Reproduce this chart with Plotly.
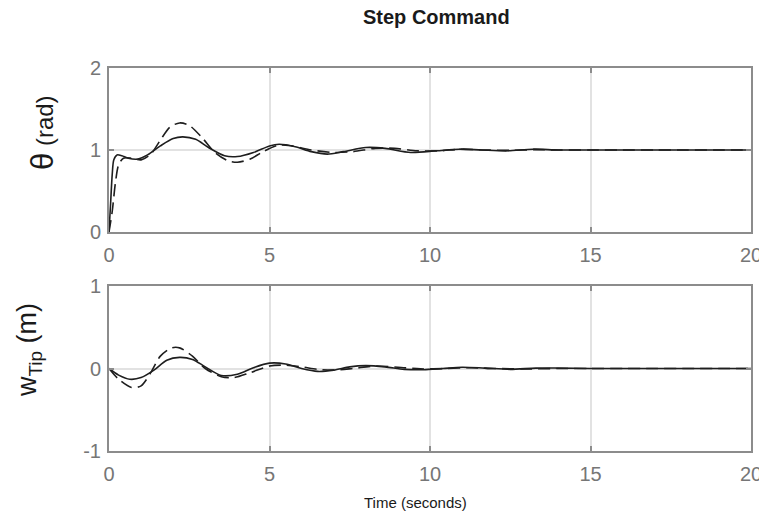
import plotly.graph_objects as go

# ---------------- data ----------------
theta_solid_t = [0, 0.05, 0.1, 0.15, 0.25, 0.4, 0.6, 0.9, 1.2, 1.6, 2.0, 2.3, 2.7, 3.1, 3.6, 4.0, 4.5,
                 5.0, 5.3, 5.8, 6.3, 6.8, 7.3, 8.0, 8.6, 9.4, 10.2, 10.9, 11.6, 12.4, 13.2, 14.0,
                 15.0, 16.0, 17.0, 18.0, 19.0, 20.0]
theta_solid = [0, 0.35, 0.7, 0.88, 0.94, 0.93, 0.90, 0.89, 0.94, 1.05, 1.14, 1.16, 1.13, 1.03, 0.93, 0.92, 0.97,
               1.05, 1.07, 1.04, 0.98, 0.95, 0.98, 1.03, 1.02, 0.97, 0.99, 1.01, 1.0, 0.99, 1.01, 1.0,
               1.0, 1.0, 1.0, 1.0, 1.0, 1.0]

theta_dash_t = [0, 0.1, 0.2, 0.3, 0.45, 0.7, 1.0, 1.3, 1.6, 1.9, 2.2, 2.5, 2.9, 3.3, 3.7, 4.0, 4.4,
                4.8, 5.3, 5.7, 6.3, 7.0, 7.6, 8.3, 8.9, 9.6, 10.3, 11.0, 11.7, 12.5, 13.3, 14.0,
                15.0, 16.0, 17.0, 18.0, 19.0, 20.0]
theta_dash = [0, 0.25, 0.6, 0.82, 0.9, 0.9, 0.88, 0.95, 1.12, 1.28, 1.33, 1.30, 1.15, 0.97, 0.87, 0.85, 0.89,
              0.98, 1.06, 1.05, 1.0, 0.97, 0.98, 1.02, 1.02, 0.99, 0.99, 1.01, 1.0, 0.995, 1.005, 1.0,
              1.0, 1.0, 1.0, 1.0, 1.0, 1.0]

w_solid_t = [0, 0.3, 0.65, 1.0, 1.4, 1.8, 2.2, 2.6, 3.0, 3.5, 4.0, 4.5, 5.0, 5.5, 6.0, 6.5, 7.0, 7.5,
             8.0, 8.6, 9.2, 9.8, 10.4, 11.0, 11.7, 12.5, 13.3, 14.0, 15.0, 16.0, 17.0, 18.0, 19.0, 20.0]
w_solid = [0, -0.08, -0.13, -0.11, -0.02, 0.10, 0.135, 0.11, 0.02, -0.085, -0.07, 0.01, 0.065, 0.055, 0.0,
           -0.035, -0.02, 0.02, 0.035, 0.02, -0.01, -0.015, 0.0, 0.015, 0.005, -0.01, 0.005, 0.005,
           0.0, 0.0, 0.0, 0.0, 0.0, 0.0]

w_dash_t = [0, 0.3, 0.7, 1.0, 1.3, 1.6, 1.95, 2.2, 2.6, 3.0, 3.5, 3.9, 4.4, 5.0, 5.5, 6.0, 6.5, 7.0,
            7.6, 8.3, 9.0, 9.7, 10.5, 11.3, 12.0, 13.0, 14.0, 15.0, 16.0, 17.0, 18.0, 19.0, 20.0]
w_dash = [0, -0.13, -0.23, -0.21, -0.05, 0.15, 0.25, 0.25, 0.15, 0.0, -0.10, -0.11, -0.05, 0.03, 0.04,
          0.02, -0.01, -0.02, 0.0, 0.03, 0.015, -0.005, 0.0, 0.01, 0.0, -0.005, 0.0, 0.0, 0.0, 0.0, 0.0,
          0.0, 0.0]

x_ticks = [0, 5, 10, 15, 20]
theta_ticks = [0, 1, 2]
w_ticks = [-1, 0, 1]

# ---------------- figure ----------------
LINE = "#1e1e1e"
AX = "#8c8c8c"
GRID = "#e2e2e2"
TICKFONT = dict(family="Liberation Sans, Arial", size=20, color="#767676")

W, H = 759, 512
L, R, T, B = 109, W - 751, 68, H - 451
ph = H - T - B
pw = W - L - R

def px(xw):
    return (xw - L) / pw

def py(yw):
    return (H - B - yw) / ph

fig = go.Figure()
fig.add_trace(go.Scatter(x=theta_solid_t, y=theta_solid, mode="lines", line=dict(color=LINE, width=1.6, shape="spline", smoothing=0.8),
                         xaxis="x", yaxis="y", showlegend=False))
fig.add_trace(go.Scatter(x=theta_dash_t, y=theta_dash, mode="lines", line=dict(color=LINE, width=1.6, dash="12px,6px", shape="spline", smoothing=0.8),
                         xaxis="x", yaxis="y", showlegend=False))
fig.add_trace(go.Scatter(x=w_solid_t, y=w_solid, mode="lines", line=dict(color=LINE, width=1.6, shape="spline", smoothing=0.8),
                         xaxis="x2", yaxis="y2", showlegend=False))
fig.add_trace(go.Scatter(x=w_dash_t, y=w_dash, mode="lines", line=dict(color=LINE, width=1.6, dash="12px,6px", shape="spline", smoothing=0.8),
                         xaxis="x2", yaxis="y2", showlegend=False))

def xaxis_style(anchor):
    return dict(range=[0, 20], tickvals=x_ticks, ticktext=[str(v) for v in x_ticks], anchor=anchor,
                showline=True, linecolor=AX, linewidth=2, mirror="ticks", ticks="inside", ticklen=5,
                tickwidth=2, tickcolor=AX, showgrid=True, gridcolor=GRID, gridwidth=2, zeroline=False,
                tickfont=TICKFONT, fixedrange=True, ticklabeloverflow="allow", ticklabelstandoff=4)

def yaxis_style(rng, vals, domain, anchor):
    return dict(range=rng, tickvals=vals, ticktext=[str(v) for v in vals], domain=domain, anchor=anchor,
                showline=True, linecolor=AX, linewidth=2, mirror="ticks", ticks="inside", ticklen=5,
                tickwidth=2, tickcolor=AX, showgrid=True, gridcolor=GRID, gridwidth=2, zeroline=False,
                tickfont=TICKFONT, fixedrange=True, ticklabelstandoff=2)

top_dom = [py(232), 1.0]
bot_dom = [0.0, py(286)]

fig.update_layout(
    width=W, height=H,
    margin=dict(l=L, r=R, t=T, b=B, autoexpand=False),
    paper_bgcolor="white", plot_bgcolor="white",
    xaxis=xaxis_style("y"),
    xaxis2=xaxis_style("y2"),
    yaxis=yaxis_style([0, 2], theta_ticks, top_dom, "x"),
    yaxis2=yaxis_style([-1, 1], w_ticks, bot_dom, "x2"),
    annotations=[
        dict(text="<b>Step Command</b>", xref="paper", yref="paper", x=px(437), y=py(17),
             xanchor="center", yanchor="middle", showarrow=False,
             font=dict(family="Liberation Sans, Arial", size=20, color="#1a1a1a")),
        dict(text="Time (seconds)", xref="paper", yref="paper", x=px(415), y=py(502),
             xanchor="center", yanchor="middle", showarrow=False,
             font=dict(family="Liberation Sans, Arial", size=15, color="#1a1a1a")),
        dict(text="<span style='font-size:31px'>θ</span> (rad)", xref="paper", yref="paper",
             x=px(42), y=py(133), textangle=-90,
             xanchor="center", yanchor="middle", showarrow=False,
             font=dict(family="Liberation Sans, Arial", size=24, color="#1a1a1a")),
        dict(text="w<sub>Tip</sub> (m)", xref="paper", yref="paper",
             x=px(29), y=py(350), textangle=-90,
             xanchor="center", yanchor="middle", showarrow=False,
             font=dict(family="Liberation Sans, Arial", size=27, color="#1a1a1a")),
    ],
)

fig.write_html(
    "out.html",
    config={"displayModeBar": False},
    post_script="document.body.style.margin='0';document.body.style.overflow='hidden';",
)
